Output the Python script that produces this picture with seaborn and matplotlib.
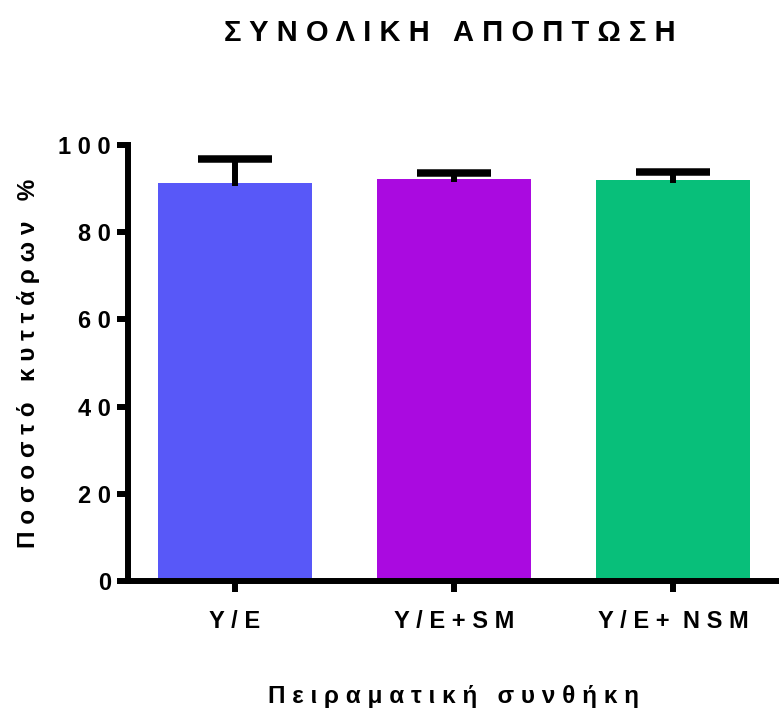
import numpy as np
import pandas as pd
import matplotlib
matplotlib.use('Agg')
import matplotlib.pyplot as plt
import seaborn as sns

# data
conditions = ['Y/E', 'Y/E+SM', 'Y/E+ NSM']
percent_cells = [91.2, 92.1, 92.0]
sem_values = [5.5, 1.4, 1.7]
bar_colors = ['#5858F8', '#AA0AE0', '#08BF7A']
y_ticks = [0, 20, 40, 60, 80, 100]


def spaced(text, gap=' ', word_gap='   '):
    # imitate the wide letter spacing of the original
    words = text.split(' ')
    return word_gap.join(gap.join(list(w)) for w in words)


sns.set_theme(style='ticks')
plt.rcParams['font.family'] = ['Liberation Sans', 'DejaVu Sans']
plt.rcParams['font.weight'] = 'bold'
plt.rcParams['text.color'] = 'black'
plt.rcParams['axes.labelcolor'] = 'black'
plt.rcParams['xtick.color'] = 'black'
plt.rcParams['ytick.color'] = 'black'

df = pd.DataFrame({'condition': conditions, 'percent': percent_cells})

fig = plt.figure(figsize=(7.79, 7.09), dpi=100)
ax = fig.add_axes([0.164, 0.1805, 0.836, 0.615])

sns.barplot(data=df, x='condition', y='percent', hue='condition',
            palette=bar_colors, width=0.70, legend=False, ax=ax,
            saturation=1, errorbar=None, linewidth=0)

# one-sided error bars (upper only), like the original graph
eb = ax.errorbar(range(len(conditions)), percent_cells,
                 yerr=[np.zeros(len(sem_values)), sem_values],
                 fmt='none', ecolor='black', elinewidth=4.3,
                 capsize=26.5, capthick=5.4, zorder=5)
eb[1][0].set_visible(False)   # no lower cap
for coll in eb[2]:
    coll.set_capstyle('projecting')

ax.set_xlim(-0.489, 2.484)
ax.set_ylim(0, 100)
ax.set_yticks(y_ticks)
ax.set_yticklabels([spaced(str(t)) for t in y_ticks])
ax.set_xticks(range(len(conditions)))
ax.set_xticklabels([spaced(c, word_gap='  ') for c in conditions])

for side in ['top', 'right']:
    ax.spines[side].set_visible(False)
for side in ['left', 'bottom']:
    ax.spines[side].set_linewidth(4.3)
    ax.spines[side].set_color('black')
ax.tick_params(axis='both', length=8, width=4.3, color='black',
               labelsize=17, pad=4)
ax.tick_params(axis='x', pad=13)
for lbl in ax.get_xticklabels() + ax.get_yticklabels():
    lbl.set_fontweight('bold')

ax.set_xlabel(spaced('Πειραματική συνθήκη'), fontsize=17.5,
              fontweight='bold', labelpad=37)
ax.set_ylabel(spaced('Ποσοστό κυττάρων %'), fontsize=17.5,
              fontweight='bold', labelpad=13)
fig.text(0.578, 0.953, spaced('ΣΥΝΟΛΙΚΗ ΑΠΟΠΤΩΣΗ'), fontsize=21,
         fontweight='bold', ha='center', va='center')

fig.savefig('out.png', dpi=100)
